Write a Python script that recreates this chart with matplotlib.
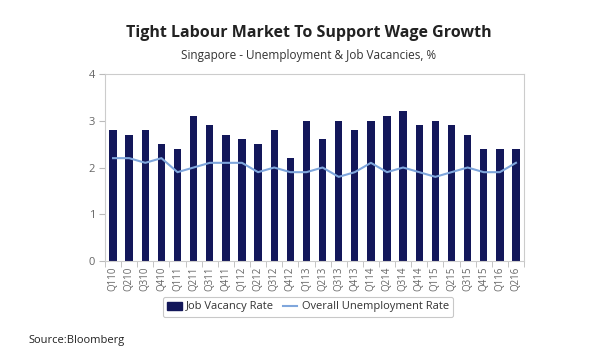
import matplotlib
matplotlib.use("Agg")
import matplotlib.pyplot as plt
from matplotlib.lines import Line2D
from matplotlib.patches import Patch
import numpy as np

quarters = ["Q110", "Q210", "Q310", "Q410", "Q111", "Q211", "Q311", "Q411",
            "Q112", "Q212", "Q312", "Q412", "Q113", "Q213", "Q313", "Q413",
            "Q114", "Q214", "Q314", "Q414", "Q115", "Q215", "Q315", "Q415",
            "Q116", "Q216"]
job_vacancy = [2.8, 2.7, 2.8, 2.5, 2.4, 3.1, 2.9, 2.7, 2.6, 2.5, 2.8, 2.2, 3.0,
               2.6, 3.0, 2.8, 3.0, 3.1, 3.2, 2.9, 3.0, 2.9, 2.7, 2.4, 2.4, 2.4]
unemployment = [2.2, 2.2, 2.1, 2.2, 1.9, 2.0, 2.1, 2.1, 2.1, 1.9, 2.0, 1.9, 1.9,
                2.0, 1.8, 1.9, 2.1, 1.9, 2.0, 1.9, 1.8, 1.9, 2.0, 1.9, 1.9, 2.1]

plt.rcParams['font.family'] = ['Open Sans', 'DejaVu Sans']

fig = plt.figure(figsize=(6, 3.6), dpi=100)
ax = fig.add_axes([105/600, 1 - 261/360, (524-105)/600, (261-74)/360])

x = np.arange(len(quarters))
bar_color = "#13175a"
line_color = "#7fa6dc"
ax.bar(x, job_vacancy, width=0.46, color=bar_color, zorder=2)
ax.plot(x, unemployment, color=line_color, lw=1.5, zorder=3)

ax.set_xlim(-0.5, len(quarters) - 0.5)
ax.set_ylim(0, 4)
ax.set_yticks([0, 1, 2, 3, 4])
ax.set_xticks(x)
ax.set_xticklabels(quarters, rotation=90, fontsize=7, color="#666666")
ax.tick_params(axis='x', length=0, pad=4)
ax.set_xticks(np.arange(-0.5, len(quarters), 1), minor=True)
ax.tick_params(axis='x', which='minor', length=4, color="#bbbbbb")
ax.tick_params(axis='y', labelsize=8, colors="#666666", length=4, color="#bbbbbb", pad=3)
for s in ax.spines.values():
    s.set_color("#cccccc")
    s.set_linewidth(0.8)

fig.text(309/600, 1 - 33/360, "Tight Labour Market To Support Wage Growth",
         ha='center', va='center', fontsize=11.5, fontweight='bold', color="#222222")
fig.text(309/600, 1 - 56/360, "Singapore - Unemployment & Job Vacancies, %",
         ha='center', va='center', fontsize=8.5, color="#333333")
fig.text(28/600, 1 - 340/360, "Source:Bloomberg", ha='left', va='center',
         fontsize=8, color="#222222")

handles = [Patch(facecolor=bar_color, edgecolor=bar_color),
           Line2D([0], [0], color=line_color, lw=1.5)]
leg = fig.legend(handles, ["Job Vacancy Rate", "Overall Unemployment Rate"],
                 loc='center', bbox_to_anchor=(308/600, 1 - 307/360), ncol=2,
                 fontsize=8, frameon=True, fancybox=True, handlelength=1.3,
                 handletextpad=0.4, columnspacing=0.8, borderpad=0.4)
leg.get_frame().set_edgecolor("#bbbbbb")
leg.get_frame().set_linewidth(0.8)
for t in leg.get_texts():
    t.set_color("#333333")

fig.savefig("out.png", dpi=100, facecolor="white")
